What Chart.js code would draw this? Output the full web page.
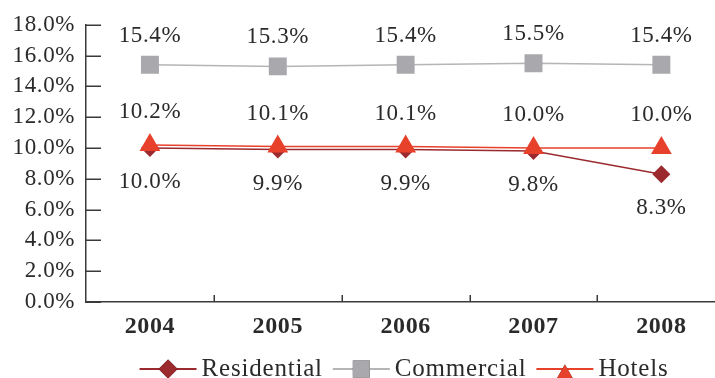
<!DOCTYPE html>
<html>
<head>
<meta charset="utf-8">
<title>Growth rates by segment, 2004–2008</title>
<script src="https://cdn.jsdelivr.net/npm/chart.js@4/dist/chart.umd.min.js"></script>
<style>
  html, body { margin: 0; padding: 0; background: #ffffff; overflow: hidden; }
  #wrap { width: 738px; height: 378px; }
  canvas { display: block; }
</style>
</head>
<body>
<div id="wrap"><canvas id="chart" width="738" height="378"></canvas></div>
<script>
// Years on the category axis
const years = ['2004', '2005', '2006', '2007', '2008'];

// Rates per segment, in percent
const residential = [10.0, 9.9, 9.9, 9.8, 8.3];
const commercial  = [15.4, 15.3, 15.4, 15.5, 15.4];
const hotels      = [10.2, 10.1, 10.1, 10.0, 10.0];

// Value axis range and step
const yMin = 0;
const yMax = 18;
const yStep = 2;

const FONT = '"Liberation Serif", "DejaVu Serif", serif';
const TEXT = '#2a2a2a';
const AXIS = '#3a3a3a';

const pct = v => v.toFixed(1) + '%';

// Slightly open letter spacing for all chart text
const spacing = {
  id: 'spacing',
  beforeDraw(chart) { chart.ctx.letterSpacing = '0.6px'; },
  afterDraw(chart) { chart.ctx.letterSpacing = '0px'; }
};

// Value labels next to every point
const valueLabels = {
  id: 'valueLabels',
  afterDatasetsDraw(chart) {
    const ctx = chart.ctx;
    ctx.save();
    ctx.font = '23px ' + FONT;
    ctx.fillStyle = TEXT;
    ctx.textAlign = 'center';
    ctx.textBaseline = 'middle';
    chart.data.datasets.forEach((ds, di) => {
      const meta = chart.getDatasetMeta(di);
      meta.data.forEach((pt, i) => {
        ctx.fillText(pct(ds.data[i]), pt.x + ds.labelDx, pt.y + ds.labelDy);
      });
    });
    ctx.restore();
  }
};

// Short tick marks pointing into the plot area
const innerTicks = {
  id: 'innerTicks',
  afterDraw(chart) {
    const { ctx, chartArea, scales } = chart;
    const x = scales.x, y = scales.y;
    ctx.save();
    ctx.strokeStyle = AXIS;
    ctx.lineWidth = 1.5;
    ctx.beginPath();
    y.ticks.forEach(t => {
      const py = Math.round(y.getPixelForValue(t.value)) + 0.25;
      ctx.moveTo(chartArea.left, py);
      ctx.lineTo(chartArea.left + 15, py);
    });
    for (let i = 0; i < years.length - 1; i++) {
      const px = Math.round((x.getPixelForValue(i) + x.getPixelForValue(i + 1)) / 2) + 0.25;
      ctx.moveTo(px, chartArea.bottom);
      ctx.lineTo(px, chartArea.bottom - 7);
    }
    ctx.stroke();
    ctx.restore();
  }
};

// Legend row: line segment with marker, then the series name
const lineLegend = {
  id: 'lineLegend',
  afterDraw(chart) {
    const { ctx } = chart;
    const lineLen = 57, gapText = 5, gapItem = 10;
    const centerX = 404;
    const y = 369;
    ctx.save();
    ctx.font = '25px ' + FONT;
    ctx.letterSpacing = '0.8px';
    const items = chart.data.datasets.map(ds => ({
      ds, w: lineLen + gapText + ctx.measureText(ds.label).width
    }));
    const total = items.reduce((s, it) => s + it.w, 0) + gapItem * (items.length - 1);
    let x = centerX - total / 2;
    items.forEach(it => {
      const ds = it.ds;
      ctx.strokeStyle = ds.borderColor;
      ctx.lineWidth = 2;
      ctx.beginPath();
      ctx.moveTo(x, y);
      ctx.lineTo(x + lineLen, y);
      ctx.stroke();
      Chart.helpers.drawPoint(ctx, {
        pointStyle: ds.pointStyle,
        radius: ds.legendRadius,
        rotation: 0,
        borderWidth: 0
      }, x + lineLen / 2, y + ds.legendDy);
      ctx.fillStyle = ds.pointBackgroundColor;
      ctx.fill();
      ctx.fillStyle = TEXT;
      ctx.textAlign = 'left';
      ctx.textBaseline = 'alphabetic';
      ctx.fillText(ds.label, x + lineLen + gapText, 376);
      x += it.w + gapItem;
    });
    ctx.restore();
  }
};

new Chart(document.getElementById('chart'), {
  type: 'line',
  data: {
    labels: years,
    datasets: [
      {
        label: 'Residential',
        data: residential,
        borderColor: '#9b2a2e',
        backgroundColor: '#9b2a2e',
        pointBackgroundColor: '#9b2a2e',
        pointBorderColor: '#9b2a2e',
        pointStyle: 'rectRot',
        pointRadius: 9,
        pointBorderWidth: 0,
        borderWidth: 1.5,
        order: 1,
        labelDx: 0,
        labelDy: 34,
        legendRadius: 9.5,
        legendDy: 0
      },
      {
        label: 'Commercial',
        data: commercial,
        borderColor: '#b5b5b8',
        backgroundColor: '#a9a9ad',
        pointBackgroundColor: '#a9a9ad',
        pointBorderColor: '#a9a9ad',
        pointStyle: 'rect',
        pointRadius: 12.7,
        pointBorderWidth: 0,
        borderWidth: 1.5,
        order: 0,
        labelDx: 0,
        labelDy: -29,
        legendRadius: 12,
        legendDy: 0
      },
      {
        label: 'Hotels',
        data: hotels,
        borderColor: '#e8412b',
        backgroundColor: '#e8412b',
        pointBackgroundColor: '#e8412b',
        pointBorderColor: '#e8412b',
        pointStyle: 'triangle',
        pointRadius: 12,
        pointBorderWidth: 0,
        borderWidth: 1.5,
        order: 0,
        labelDx: 0,
        labelDy: -33,
        legendRadius: 11.5,
        legendDy: 7
      }
    ]
  },
  options: {
    responsive: false,
    animation: false,
    devicePixelRatio: 1,
    layout: { padding: { top: 21, right: 0, bottom: 36, left: 0 } },
    plugins: {
      legend: { display: false },
      tooltip: { enabled: false }
    },
    scales: {
      x: {
        type: 'category',
        offset: true,
        grid: { display: false, drawTicks: false, offset: true },
        border: { display: true, color: AXIS, width: 1.5 },
        ticks: {
          color: TEXT,
          padding: 10,
          font: { family: FONT, size: 24, weight: 'bold' }
        },
        afterFit(scale) { scale.height = 40; }
      },
      y: {
        min: yMin,
        max: yMax,
        grid: { display: false, drawTicks: false },
        border: { display: true, color: AXIS, width: 1.5 },
        ticks: {
          stepSize: yStep,
          color: TEXT,
          padding: 11,
          font: { family: FONT, size: 23 },
          callback: v => pct(v)
        },
        afterFit(scale) { scale.width = 86; }
      }
    }
  },
  plugins: [spacing, valueLabels, innerTicks, lineLegend]
});
</script>
</body>
</html>
